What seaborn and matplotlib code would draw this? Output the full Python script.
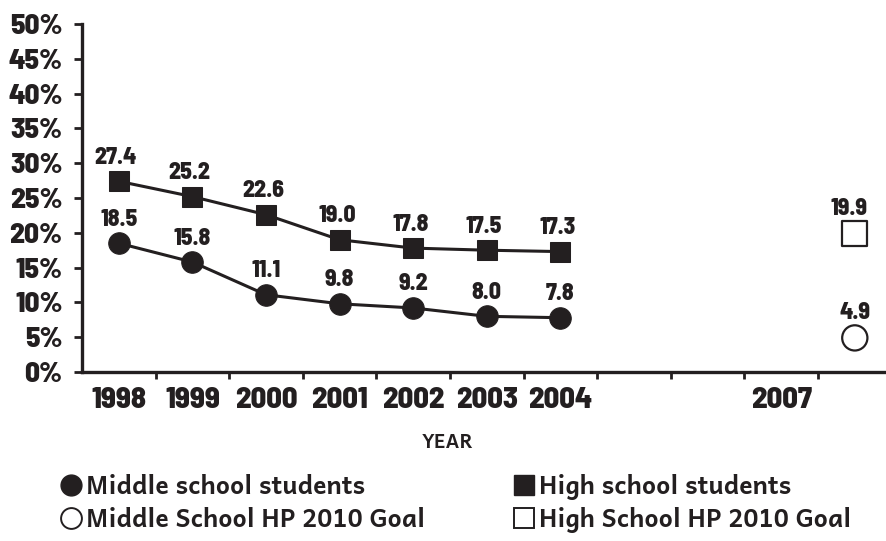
import matplotlib
matplotlib.use("Agg")
import matplotlib.pyplot as plt
from matplotlib.lines import Line2D
from matplotlib.ticker import FixedLocator
import seaborn as sns
import pandas as pd

# Category slots along the x axis (blank slots keep the spacing to 2007)
slot_labels = ["1998", "1999", "2000", "2001", "2002", "2003", "2004", "", "", "2007", ""]
years = ["1998", "1999", "2000", "2001", "2002", "2003", "2004"]
middle_school = [18.5, 15.8, 11.1, 9.8, 9.2, 8.0, 7.8]
high_school = [27.4, 25.2, 22.6, 19.0, 17.8, 17.5, 17.3]
middle_goal = 4.9
high_goal = 19.9
goal_slot = 10
y_ticks = [0, 5, 10, 15, 20, 25, 30, 35, 40, 45, 50]
y_tick_labels = [f"{v}%" for v in y_ticks]

INK = "#231f20"
NUM_FONT = ["Barlow Semi Condensed", "DejaVu Sans"]
TXT_FONT = ["Andika", "DejaVu Sans"]
NUM_WEIGHT = 800

sns.set_theme(style="white")
plt.rcParams["font.family"] = NUM_FONT

pos = [slot_labels.index(y) for y in years]
df = pd.DataFrame({
    "pos": pos * 2,
    "value": middle_school + high_school,
    "group": ["Middle school students"] * len(years) + ["High school students"] * len(years),
})

fig = plt.figure(figsize=(8.86, 5.41), dpi=100)
ax = fig.add_axes([82 / 886, 1 - 372 / 541, 804 / 886, 348 / 541])

sns.lineplot(data=df, x="pos", y="value", hue="group", style="group",
             markers={"Middle school students": "o", "High school students": "s"},
             dashes=False, palette=[INK, INK], linewidth=2.2, markersize=15.5,
             markeredgecolor=INK, legend=False, ax=ax)
# square marker a touch smaller than the circle
for line in ax.lines:
    if line.get_marker() == "s":
        line.set_markersize(14.5)

goal_df = pd.DataFrame({"pos": [goal_slot, goal_slot], "value": [middle_goal, high_goal],
                        "group": ["Middle School HP 2010 Goal", "High School HP 2010 Goal"]})
sns.scatterplot(data=goal_df, x="pos", y="value", style="group",
                markers={"Middle School HP 2010 Goal": "o", "High School HP 2010 Goal": "s"},
                s=[330, 330], facecolor="white", edgecolor=INK, linewidth=1.6,
                legend=False, ax=ax)

LABEL_KW = dict(textcoords="offset points", ha="center", va="bottom",
                fontsize=17, fontweight=NUM_WEIGHT, color=INK)

# value labels above each mark
for p, v in zip(pos, middle_school):
    ax.annotate(f"{v:.1f}", (p, v), xytext=(0, 9), **LABEL_KW)
for p, v in zip(pos, high_school):
    ax.annotate(f"{v:.1f}", (p, v), xytext=(-2, 9), **LABEL_KW)
ax.annotate(f"{middle_goal:.1f}", (goal_slot, middle_goal), xytext=(0, 10), **LABEL_KW)
ax.annotate(f"{high_goal:.1f}", (goal_slot, high_goal), xytext=(-4, 10), **LABEL_KW)

ax.set_xlim(-0.5, -0.5 + 804 / 73.6)
ax.set_ylim(0, 50)

ax.set_yticks(y_ticks)
ax.set_yticklabels(y_tick_labels, fontsize=21, fontweight=NUM_WEIGHT, color=INK)
ax.set_xticks(range(len(slot_labels)))
ax.set_xticklabels(slot_labels, fontsize=22, fontweight=NUM_WEIGHT, color=INK)
ax.xaxis.set_minor_locator(FixedLocator([i + 0.5 for i in range(len(slot_labels) - 1)]))

ax.tick_params(axis="y", which="major", direction="out", length=6, width=2,
               color=INK, pad=8, left=True)
ax.tick_params(axis="x", which="major", length=0, pad=11)
ax.tick_params(axis="x", which="minor", direction="out", length=5, width=2,
               color=INK, bottom=True)

for side in ("top", "right"):
    ax.spines[side].set_visible(False)
for side in ("left", "bottom"):
    ax.spines[side].set_color(INK)
    ax.spines[side].set_linewidth(2.4)

ax.set_xlabel("YEAR", fontsize=14, fontweight="bold", family=TXT_FONT, color=INK, va="center")
ax.xaxis.set_label_coords((448 - 82) / 804, (372 - 443) / 348)
ax.set_ylabel("")
ax.grid(False)

handles = [
    Line2D([], [], linestyle="none", marker="o", markersize=15, color=INK),
    Line2D([], [], linestyle="none", marker="o", markersize=15, markerfacecolor="white",
           markeredgecolor=INK, markeredgewidth=1.4),
    Line2D([], [], linestyle="none", marker="s", markersize=14, color=INK),
    Line2D([], [], linestyle="none", marker="s", markersize=14, markerfacecolor="white",
           markeredgecolor=INK, markeredgewidth=1.4),
]
labels = ["Middle school students", "Middle School HP 2010 Goal",
          "High school students", "High School HP 2010 Goal"]
fig.legend(handles, labels, ncol=2, loc="upper left", bbox_to_anchor=(60 / 886, 1 - 474 / 541),
           frameon=False, handlelength=0.9, handletextpad=0.15, columnspacing=3.5,
           labelspacing=0.28, borderaxespad=0, borderpad=0,
           prop={"family": TXT_FONT, "weight": "bold", "size": 18}, labelcolor=INK)

fig.savefig("out.png", dpi=100, facecolor="white")
